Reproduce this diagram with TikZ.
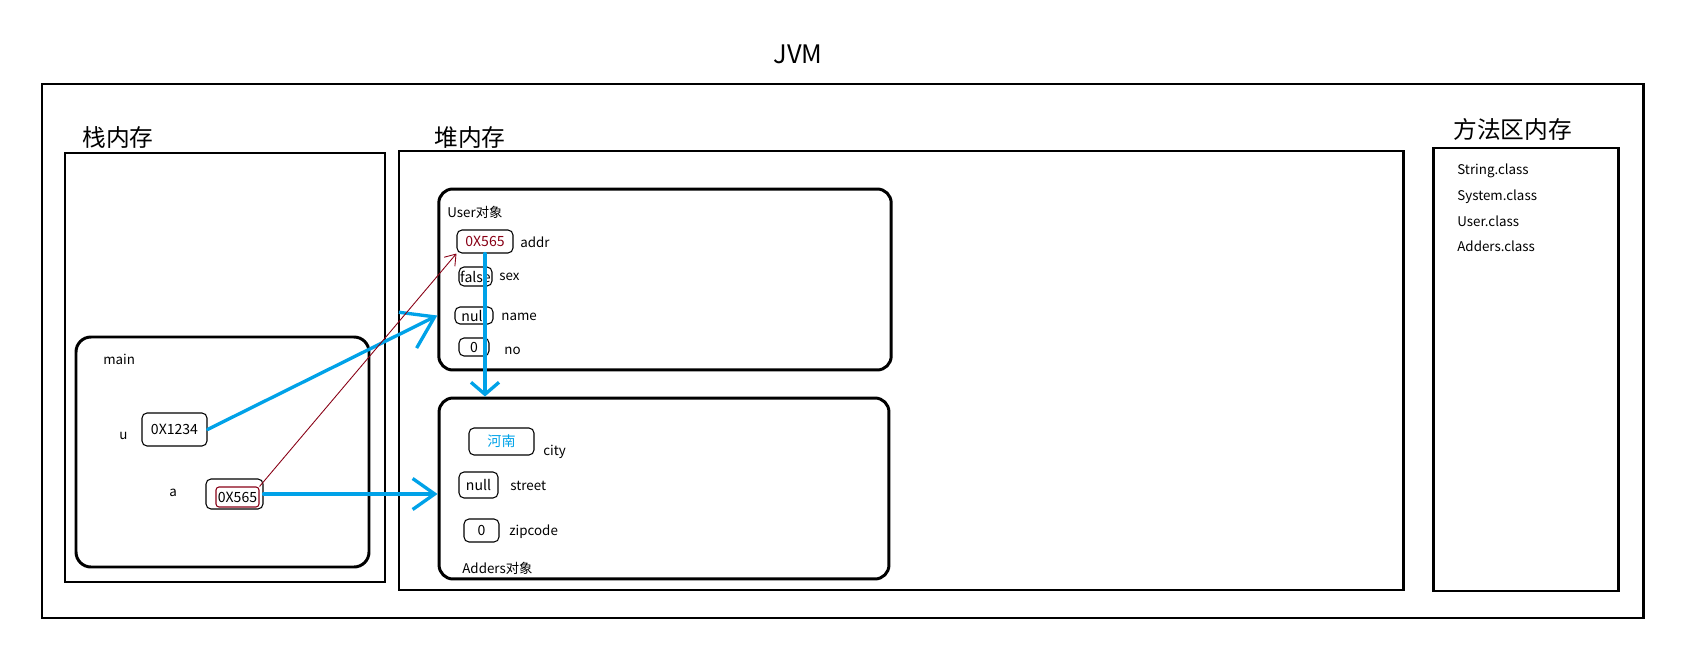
\documentclass[tikz,border=0pt]{standalone}
\usepackage{fontspec}
\setmainfont{Noto Sans CJK SC}
\usetikzlibrary{arrows.meta}
\definecolor{paintblue}{RGB}{0,162,232}
\definecolor{paintred}{RGB}{136,0,21}
\tikzset{
  frame/.style={line width=1.7pt},
  objbox/.style={draw, line width=1.7pt, rounded corners=0.28cm, inner sep=0},
  valbox/.style={draw, line width=0.6pt, rounded corners=0.1cm, inner sep=0, font=\fontsize{8}{10}\selectfont},
  lbl/.style={anchor=west, inner sep=0, font=\fontsize{7.6}{9}\selectfont},
  biglbl/.style={anchor=west, inner sep=0, font=\fontsize{13.5}{16}\selectfont},
  ptr/.style={paintblue, line width=1.9pt, line cap=round}
}
\begin{document}
\begin{tikzpicture}[x=0.02cm,y=-0.02cm]
      \useasboundingbox (0,0) rectangle (1696,648);
      \node[inner sep=0, font=\fontsize{14.5}{17}\selectfont] (jvm) at (798,54) {JVM};
      \draw[frame] (42,84) rectangle (1643,618);

      % stack
      \node[biglbl] (stacklbl) at (82,138) {栈内存};
      \draw[frame] (65,153) rectangle (385,582);
      \draw[frame, rounded corners=0.3cm] (76,337) rectangle (369,567);
      \node[lbl] (mainlbl) at (103,359) {main};
      \node[lbl] (ulbl) at (119,436) {u};
      \node[valbox, minimum width=1.30cm, minimum height=0.66cm] (uval) at (174.5,429.5) {0X1234};
      \node[lbl] (albl) at (169,493) {a};
      \node[valbox, minimum width=1.14cm, minimum height=0.60cm] (aval) at (234.5,494) {};
      \node[valbox, draw=paintred, rounded corners=0.06cm, minimum width=0.86cm, minimum height=0.40cm] (ainner) at (237.5,497) {0X565};

      % heap
      \node[biglbl] (heaplbl) at (434,138) {堆内存};
      \draw[frame] (399,151) rectangle (1403,590);
      \node[objbox, minimum width=9.05cm, minimum height=3.62cm] (userobj) at (665,279.5) {};
      \node[lbl] (userlbl) at (447,212) {User对象};
      \node[valbox, text=paintred, font=\fontsize{8}{10}\selectfont\addfontfeature{FakeBold=0}, minimum width=1.12cm, minimum height=0.46cm] (addrval) at (485,241.5) {0X565};
      \node[lbl] (addrlbl) at (520,242) {addr};
      \node[valbox, minimum width=0.66cm, minimum height=0.38cm] (sexval) at (475.5,276.5) {false};
      \node[lbl] (sexlbl) at (499,277) {sex};
      \node[valbox, minimum width=0.76cm, minimum height=0.34cm] (nameval) at (474,315.5) {null};
      \node[lbl] (namelbl) at (501,317) {name};
      \node[valbox, minimum width=0.60cm, minimum height=0.36cm] (noval) at (474,347) {0};
      \node[lbl] (nolbl) at (504,351) {no};

      \node[objbox, minimum width=9.0cm, minimum height=3.62cm] (addrobj) at (664,488.5) {};
      \node[valbox, text=paintblue, minimum width=1.30cm, minimum height=0.54cm] (cityval) at (501.5,441.5) {河南};
      \node[lbl] (citylbl) at (543,452) {city};
      \node[valbox, minimum width=0.78cm, minimum height=0.52cm] (streetval) at (478.5,485) {null};
      \node[lbl] (streetlbl) at (510,486) {street};
      \node[valbox, minimum width=0.70cm, minimum height=0.46cm] (zipval) at (481.5,530.5) {0};
      \node[lbl] (ziplbl) at (509,532) {zipcode};
      \node[lbl] (adderslbl) at (462,568) {Adders对象};

      % method area
      \node[biglbl] (methodlbl) at (1453,129) {方法区内存};
      \draw[frame] (1433,148) rectangle (1618,591);
      \node[lbl] (cls1) at (1457,171) {String.class};
      \node[lbl] (cls2) at (1457,197) {System.class};
      \node[lbl] (cls3) at (1457,221) {User.class};
      \node[lbl] (cls4) at (1457,246) {Adders.class};

      % references
      \draw[ptr, -{Straight Barb[length=0.6cm,width=0.8cm]}] (uval.east) -- (userobj.west |- nameval);
      \draw[ptr, -{Straight Barb[length=0.44cm,width=0.62cm]}] (aval.east) -- (addrobj.west |- aval);
      \draw[ptr, -{Straight Barb[length=0.24cm,width=0.56cm]}] (addrval.south) -- (addrval.south |- addrobj.north);
      \draw[paintred, line width=0.5pt, -{Straight Barb[length=0.2cm,width=0.28cm]}] (ainner.north east) -- (addrval.south west);
\end{tikzpicture}
\end{document}
